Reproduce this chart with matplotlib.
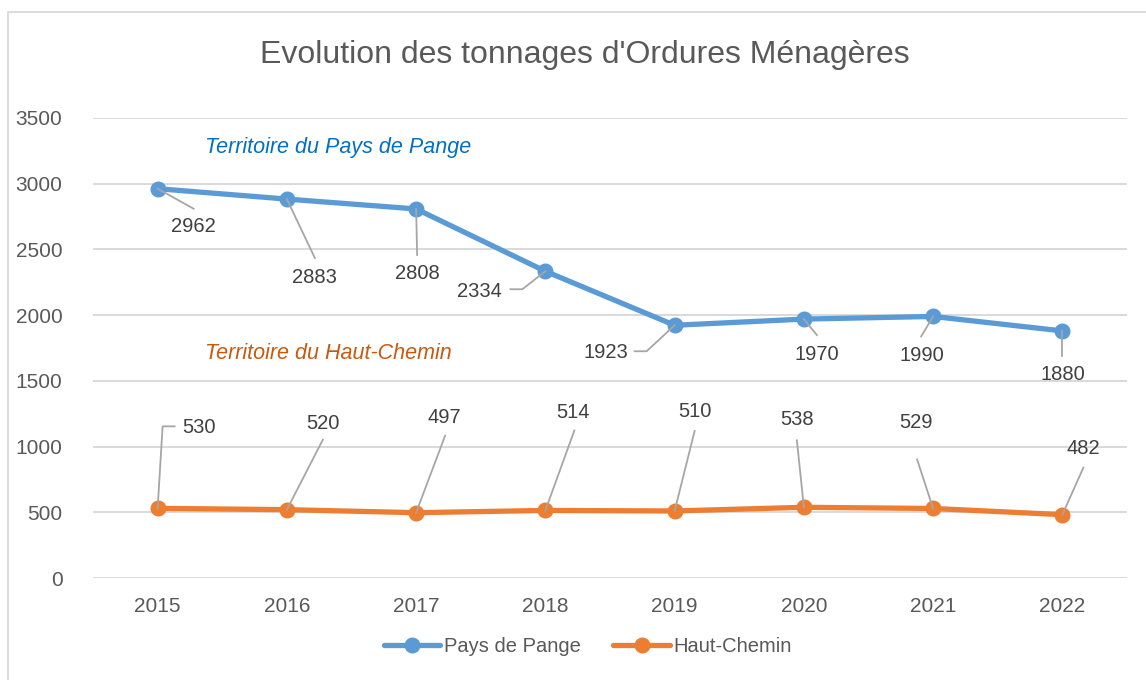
import matplotlib
matplotlib.use("Agg")
import matplotlib.pyplot as plt
from matplotlib import transforms
from matplotlib.lines import Line2D
from matplotlib.patches import Rectangle
from matplotlib import font_manager

# ---------------- data ----------------
years = ["2015", "2016", "2017", "2018", "2019", "2020", "2021", "2022"]
pange = [2962, 2883, 2808, 2334, 1923, 1970, 1990, 1880]
haut_chemin = [530, 520, 497, 514, 510, 538, 529, 482]
yticks = [0, 500, 1000, 1500, 2000, 2500, 3000, 3500]
title = "Evolution des tonnages d'Ordures Ménagères"
series_names = ["Pays de Pange", "Haut-Chemin"]
territory_labels = ["Territoire du Pays de Pange", "Territoire du Haut-Chemin"]

# ---------------- fonts ----------------
names = {f.name for f in font_manager.fontManager.ttflist}
fam = ["Liberation Sans Narrow", "Liberation Sans", "DejaVu Sans"]
fam = [f for f in fam if f in names] or ["DejaVu Sans"]
plt.rcParams["font.family"] = fam

W, H = 1146, 680
fig = plt.figure(figsize=(W / 100, H / 100), dpi=100)
fig.patch.set_facecolor("white")
ax = fig.add_axes([93 / W, 1 - 578 / H, (1127 - 93) / W, (578 - 118) / H])

BLUE = "#5B9BD5"
ORANGE = "#ED7D31"
GRID = "#D9D9D9"
TXT = "#595959"
LBL = "#404040"
LEAD = "#A6A6A6"

x = list(range(len(years)))
ax.plot(x, pange, color=BLUE, lw=3.8, marker="o", ms=10.5, zorder=3,
        solid_capstyle="round", label=series_names[0])
ax.plot(x, haut_chemin, color=ORANGE, lw=3.8, marker="o", ms=10.5, zorder=3,
        solid_capstyle="round", label=series_names[1])

ax.set_xlim(-0.5, len(years) - 0.5)
ax.set_ylim(0, 3500)
ax.set_yticks(yticks)
ax.set_yticklabels([str(v) for v in yticks])
ax.set_xticks(x)
ax.set_xticklabels(years)
ax.grid(axis="y", color=GRID, lw=1.4)
ax.set_axisbelow(True)
for s in ax.spines.values():
    s.set_visible(False)
ax.tick_params(axis="both", length=0, labelsize=15, colors=TXT)
ax.tick_params(axis="y", pad=22)
ax.tick_params(axis="x", pad=14)

fig.text(585 / W, 1 - 55 / H, title, ha="center", va="center",
         fontsize=23, color=TXT)

ax.text(205 / W, 1 - 148 / H, territory_labels[0], transform=fig.transFigure,
        ha="left", va="center", fontsize=15.5, style="italic", color="#0070C0")
ax.text(205 / W, 1 - 353 / H, territory_labels[1], transform=fig.transFigure,
        ha="left", va="center", fontsize=15.5, style="italic", color="#C55A11")

# label layout: text offset and leader polyline in pixels (y downward)
pange_layout = [
    ((36, 38), [(0, 0), (36, 20)]),
    ((28, 78), [(0, 0), (28, 59)]),
    ((1, 65), [(0, 0), (1, 46)]),
    ((-66, 20), [(0, 0), (-23, 18), (-35, 18)]),
    ((-69, 27), [(0, 0), (-28, 26), (-40, 26)]),
    ((13, 35), [(0, 0), (13, 16)]),
    ((-11, 39), [(0, 0), (-12, 20)]),
    ((0, 44), [(0, 0), (0, 25)]),
]
hc_layout = [
    ((41, -81), [(0, 0), (5, -82), (17, -82)]),
    ((36, -86), [(0, 0), (36, -70)]),
    ((28, -95), [(0, 0), (29, -77)]),
    ((28, -98), [(0, 0), (29, -80)]),
    ((20, -99), [(0, 0), (20, -80)]),
    ((-7, -88), [(0, 0), (-7, -67)]),
    ((-17, -86), [(0, 0), (-16, -49)]),
    ((21, -66), [(0, 0), (21, -47)]),
]


def label_series(vals, layout):
    for xi, v, ((tx, ty), pts) in zip(x, vals, layout):
        tr = transforms.IdentityTransform() + transforms.ScaledTranslation(xi, v, ax.transData)
        ln = Line2D([p[0] for p in pts], [-p[1] for p in pts],
                    color=LEAD, lw=1.3, zorder=4)
        ln.set_clip_on(False)
        ax.add_line(ln)
        ln.set_transform(tr)
        ax.text(tx, -ty, str(v), transform=tr, ha="center", va="center",
                fontsize=14.5, color=LBL, zorder=5)


label_series(pange, pange_layout)
label_series(haut_chemin, hc_layout)

fig.legend(loc="center", bbox_to_anchor=(588 / W, 1 - 647 / H), ncol=2,
           frameon=False, fontsize=14.5, handlelength=2.8, handletextpad=0.2,
           columnspacing=1.6, labelcolor=TXT, markerscale=1.0)

# outer border
fig.patches.append(Rectangle((8 / W, -0.1), 2, 1.1 - 12 / H, transform=fig.transFigure,
                             fill=False, edgecolor=GRID, lw=1.3))

fig.savefig("out.png", dpi=100, facecolor="white")
